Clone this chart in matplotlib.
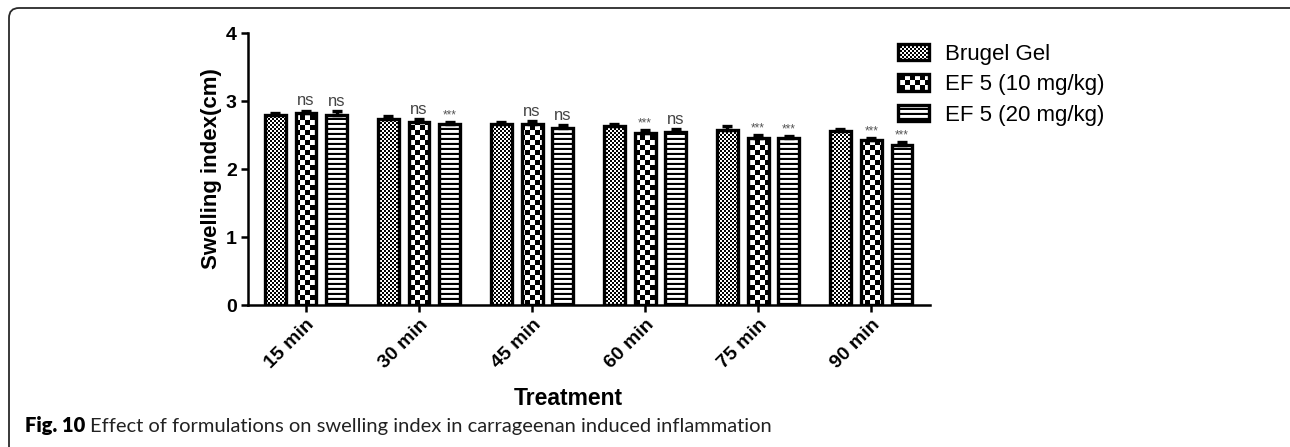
import numpy as np
import matplotlib
matplotlib.use("Agg")
import matplotlib.pyplot as plt
import matplotlib.hatch as mhatch
from matplotlib.path import Path
from matplotlib.patches import FancyBboxPatch

# --- data -------------------------------------------------------------
times = ["15 min", "30 min", "45 min", "60 min", "75 min", "90 min"]
groups = ["Brugel Gel", "EF 5 (10 mg/kg)", "EF 5 (20 mg/kg)"]

brugel = [2.80, 2.74, 2.66, 2.63, 2.58, 2.56]
ef5_10 = [2.82, 2.69, 2.66, 2.53, 2.46, 2.42]
ef5_20 = [2.80, 2.66, 2.60, 2.55, 2.46, 2.35]

brugel_err = [0.03, 0.04, 0.03, 0.03, 0.05, 0.03]
ef5_10_err = [0.04, 0.05, 0.05, 0.04, 0.04, 0.03]
ef5_20_err = [0.05, 0.03, 0.05, 0.04, 0.03, 0.05]

sig_10 = ["ns", "ns", "ns", "***", "***", "***"]
sig_20 = ["ns", "***", "ns", "ns", "***", "***"]


# --- checkerboard / stripe fills (GraphPad style) ----------------------
class CheckerHatch(mhatch.HatchPatternBase):
    """'O' -> filled checkerboard, 10 cells per hatch unit per 'O'."""

    def __init__(self, hatch, density):
        self.n = hatch.count("O") * 10
        self.num_vertices = (self.n * self.n // 2) * 5

    def set_vertices_and_codes(self, vertices, codes):
        step = 1.0 / self.n
        sq = np.array([[0, 0], [1, 0], [1, 1], [0, 1], [0, 0]], float) * step
        parts = [sq + [i * step, j * step]
                 for i in range(self.n) for j in range(self.n)
                 if (i + j) % 2 == 0]
        vertices[:] = np.concatenate(parts)
        codes[:] = np.tile([Path.MOVETO, Path.LINETO, Path.LINETO,
                            Path.LINETO, Path.CLOSEPOLY], len(parts))


class StripeHatch(mhatch.HatchPatternBase):
    """'o' -> filled horizontal stripes, 10 per hatch unit per 'o'."""

    def __init__(self, hatch, density):
        self.n = hatch.count("o") * 10
        self.num_vertices = self.n * 5

    def set_vertices_and_codes(self, vertices, codes):
        step = 1.0 / self.n
        h = 0.42 * step
        parts = [np.array([[0, y], [1, y], [1, y + h], [0, y + h], [0, y]])
                 for y in np.arange(self.n) * step]
        vertices[:] = np.concatenate(parts)
        codes[:] = np.tile([Path.MOVETO, Path.LINETO, Path.LINETO,
                            Path.LINETO, Path.CLOSEPOLY], self.n)


mhatch._hatch_types = [CheckerHatch if t is mhatch.LargeCircles else
                       StripeHatch if t is mhatch.SmallCircles else t
                       for t in mhatch._hatch_types]

plt.rcParams["font.family"] = ["Liberation Sans", "DejaVu Sans"]
plt.rcParams["hatch.linewidth"] = 0.0
plt.rcParams["hatch.color"] = "black"

fig = plt.figure(figsize=(12.9, 4.47), dpi=100)
ax = fig.add_axes([248 / 1290, 1 - 305 / 447, 682 / 1290, 272 / 447])

x = np.arange(len(times))
off = 0.272
width = 0.185
series = [(brugel, brugel_err, "OOOOO"),
          (ef5_10, ef5_10_err, "OO"),
          (ef5_20, ef5_20_err, "oo")]

for k, (vals, errs, hatch) in enumerate(series):
    pos = x + (k - 1) * off
    ax.bar(pos, vals, width, color="white", edgecolor="black",
           linewidth=2.4, hatch=hatch, label=groups[k], zorder=2)
    ax.errorbar(pos, vals, yerr=[np.zeros(len(errs)), errs], fmt="none",
                ecolor="black", elinewidth=2.4, capsize=3.5, capthick=2.4,
                zorder=3)

# significance marks over the EF 5 bars
for k, (vals, errs, marks) in enumerate([(ef5_10, ef5_10_err, sig_10),
                                          (ef5_20, ef5_20_err, sig_20)]):
    for i, m in enumerate(marks):
        top = vals[i] + errs[i] + 0.03
        if m == "ns":
            ax.text(x[i] + k * off, top, m, ha="center", va="bottom",
                    fontsize=12, color="#444444")
        else:
            ax.text(x[i] + k * off, top - 0.02, m, ha="center", va="bottom",
                    fontsize=8.5, color="#555555")

ax.set_xlim(-0.513, 5.52)
ax.set_ylim(0, 4)
ax.set_yticks([0, 1, 2, 3, 4])
ax.set_xticks(x)
ax.set_xticklabels(times, rotation=45, ha="right", rotation_mode="anchor",
                   fontsize=14, fontweight="bold")
for lab in ax.get_yticklabels():
    lab.set_fontsize(14)
    lab.set_fontweight("bold")
ax.spines["top"].set_visible(False)
ax.spines["right"].set_visible(False)
ax.spines["left"].set_linewidth(1.8)
ax.spines["bottom"].set_linewidth(1.8)
ax.tick_params(axis="both", direction="out", length=5, width=1.8, pad=3)

ax.set_ylabel("Swelling index(cm)", fontsize=16, fontweight="bold")
ax.yaxis.set_label_coords(-0.038, 0.5)
ax.set_xlabel("Treatment", fontsize=16.5, fontweight="bold")
ax.xaxis.set_label_coords(0.469, -0.303)

ax.legend(loc="upper left", bbox_to_anchor=(898 / 1290, 1 - 44 / 447),
          bbox_transform=fig.transFigure, frameon=False, fontsize=16,
          handlelength=1.4, handleheight=0.75, handletextpad=0.7,
          labelspacing=0.42, borderpad=0, borderaxespad=0)

# rounded panel border and caption
frame = FancyBboxPatch((0.09, -0.5), 12.95, 4.39 + 0.5,
                       boxstyle="round,pad=0,rounding_size=0.1",
                       transform=fig.dpi_scale_trans, facecolor="none",
                       edgecolor="#2a2a2a", linewidth=1.3, clip_on=False)
fig.patches.append(frame)

cap_y = 1 - 432 / 447
head = fig.text(25 / 1290, cap_y, "Fig. 10", fontsize=14.5, fontweight="heavy",
                family=["Lato", "DejaVu Sans"], va="baseline")
renderer = fig.canvas.get_renderer()
head_end = head.get_window_extent(renderer).x1 / fig.bbox.width
fig.text(head_end + 5 / 1290, cap_y,
         "Effect of formulations on swelling index in carrageenan induced inflammation",
         fontsize=14.5, family=["Lato", "DejaVu Sans"], va="baseline",
         color="#222222")

fig.savefig("out.png", dpi=100)
